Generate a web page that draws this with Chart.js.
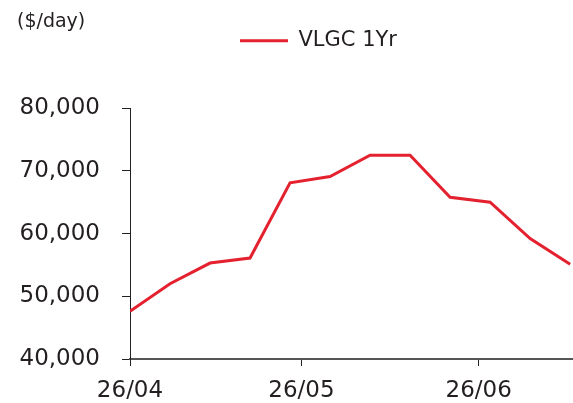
<!DOCTYPE html>
<html>
<head>
<meta charset="utf-8">
<script src="https://cdn.jsdelivr.net/npm/chart.js@4/dist/chart.umd.min.js"></script>
<style>
  html, body { margin: 0; padding: 0; background: #ffffff; }
  #wrap { width: 573px; height: 403px; }
</style>
</head>
<body>
<div id="wrap"><canvas id="c" width="573" height="403"></canvas></div>
<script>
// ---- data ----
const weekLabels = ['26/04','03/05','10/05','17/05','24/05','31/05','07/06','14/06','21/06','28/06','05/07','12/07'];
const vlgc1Yr = [47600, 52000, 55300, 56100, 68100, 69100, 72500, 72500, 65800, 65000, 59200, 55100];
const axisTickLabels = ['26/04', '26/05', '26/06'];
const yTickValues = [40000, 50000, 60000, 70000, 80000];
const seriesName = 'VLGC 1Yr';
const unitLabel = '($/day)';

// ---- helpers ----
function dayOf(lbl) {
  const [d, m] = lbl.split('/').map(Number);
  return (Date.UTC(2021, m - 1, d) - Date.UTC(2021, 3, 26)) / 86400000;
}
const points = weekLabels.map((l, i) => ({ x: dayOf(l), y: vlgc1Yr[i] }));
const tickDays = axisTickLabels.map(dayOf);

const RED = '#E4212F';
const TXT = '#231F20';
const FONT = 'DejaVu Sans';

const layoutTweaks = {
  id: 'layoutTweaks',
  beforeLayout(chart) {
    const lg = chart.legend;
    if (lg && !lg._patched) {
      const f = lg.fit;
      lg.fit = function () { f.call(this); this.height = 79; };
      lg._patched = true;
    }
  },
  afterLayout(chart) {
    if (chart.legend) chart.legend.left = 239;
    if (chart.titleBlock) chart.titleBlock.left = 17;
  }
};

new Chart(document.getElementById('c'), {
  type: 'line',
  data: {
    datasets: [{
      label: seriesName,
      data: points,
      borderColor: RED,
      backgroundColor: RED,
      borderWidth: 3,
      pointRadius: 0,
      tension: 0,
      fill: false
    }]
  },
  options: {
    responsive: false,
    animation: false,
    devicePixelRatio: 1,
    layout: { padding: 0 },
    plugins: {
      tooltip: { enabled: false },
      title: {
        display: true,
        text: unitLabel,
        align: 'start',
        color: TXT,
        font: { family: FONT, size: 19, weight: 'normal', lineHeight: 0.8 },
        padding: { top: 14, bottom: 0 }
      },
      legend: {
        display: true,
        position: 'top',
        align: 'start',
        labels: {
          boxWidth: 48,
          boxHeight: 3,
          padding: 1,
          color: TXT,
          font: { family: FONT, size: 21 },
          generateLabels: (chart) => Chart.defaults.plugins.legend.labels.generateLabels(chart)
            .map(l => Object.assign(l, { lineWidth: 0, fillStyle: RED, strokeStyle: RED }))
        }
      }
    },
    scales: {
      x: {
        type: 'linear',
        min: 0,
        max: 77.5,
        afterBuildTicks: (scale) => { scale.ticks = tickDays.map(v => ({ value: v })); },
        afterFit: (scale) => { scale.height = 44; },
        ticks: {
          autoSkip: false,
          maxRotation: 0,
          padding: 11,
          color: TXT,
          font: { family: FONT, size: 23 },
          callback: (v) => { const i = tickDays.indexOf(v); return i >= 0 ? axisTickLabels[i] : ''; }
        },
        grid: { drawOnChartArea: false, drawTicks: true, tickLength: 7, color: '#222', lineWidth: 1 },
        border: { display: true, color: '#555555', width: 2 }
      },
      y: {
        min: yTickValues[0],
        max: yTickValues[yTickValues.length - 1],
        afterBuildTicks: (scale) => { scale.ticks = yTickValues.map(v => ({ value: v })); },
        afterFit: (scale) => { scale.width = 130; },
        ticks: {
          padding: 22,
          color: TXT,
          font: { family: FONT, size: 23 },
          callback: (v) => Number(v).toLocaleString('en-US')
        },
        grid: { drawOnChartArea: false, drawTicks: true, tickLength: 8, color: '#222', lineWidth: 1 },
        border: { display: true, color: '#222', width: 1 }
      }
    }
  },
  plugins: [layoutTweaks]
});
</script>
</body>
</html>
